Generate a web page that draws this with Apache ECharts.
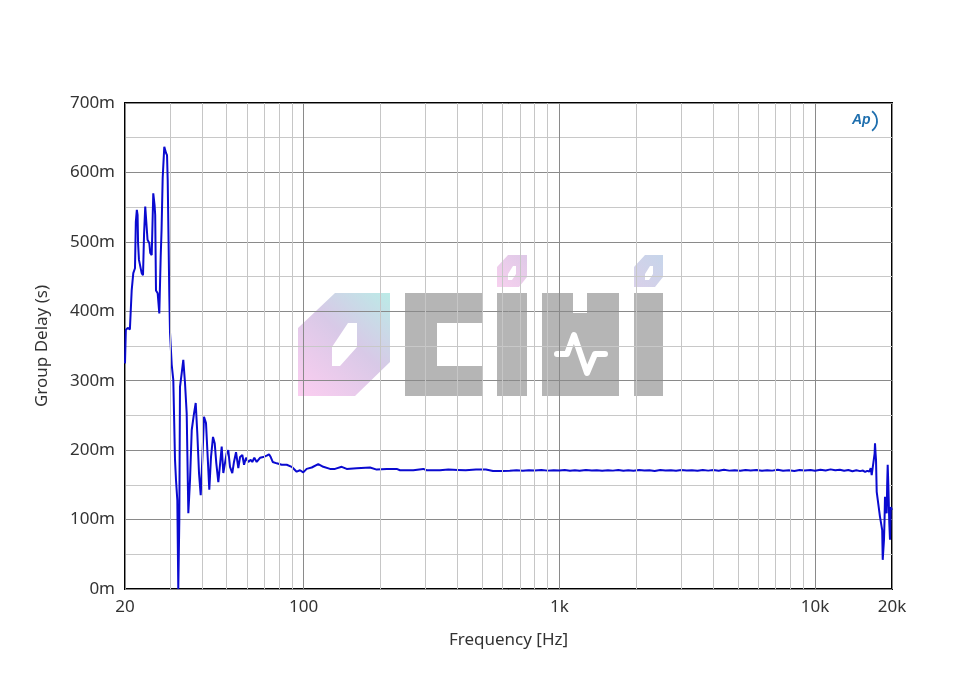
<!DOCTYPE html>
<html><head><meta charset="utf-8">
<script src="https://cdn.jsdelivr.net/npm/echarts@6/dist/echarts.min.js"></script>
<style>html,body{margin:0;padding:0;background:#fff}#c{width:960px;height:680px}</style>
</head><body><div id="c"></div>
<script>
// ---- data (frequency in Hz, group delay in milliseconds) ----
const freqHz = [
20,20.15,20.5,20.9,21.24,21.55,21.88,22.05,22.25,22.4,22.5,22.68,23.24,23.52,23.74,24.0,24.3,24.5,24.9,25.1,
25.44,25.8,26.1,26.25,26.44,26.84,27.24,27.58,27.8,28.08,28.49,28.94,29.2,29.38,29.8,30.0,30.46,30.9,31.38,31.66,
32.04,32.32,32.62,32.82,33.33,33.81,34.33,34.86,35.38,35.92,36.48,37.24,37.81,38.36,38.95,39.55,40.12,40.74,41.48,42.12,
42.73,43.39,44.18,44.86,45.52,46.35,47.06,47.78,48.48,49.36,49.98,50.7,51.49,52.56,53.37,54.36,55.5,56.36,57.54,58.43,
59.49,60.72,62.04,62.93,64.09,65.48,67.46,69.5,71.66,73.17,74.3,75.65,78.43,82.04,85.82,89.74,93.88,96.72,99.6,102.7,
107.5,114,119.3,126.7,132.6,140.8,147.3,161.2,181.7,193,211.2,231,238,268.4,293.6,302.8,341,367.8,
400,430,472,516,550,600,640,680,720,760,800,850,900,950,1000,1050,1100,1150,1200,1270,1340,1400,1470,1550,1620,1700,1780,1860,1950,
2050,2150,2250,2360,2480,2600,2730,2860,3000,3150,3300,3470,3640,3820,4000,4200,4400,4620,4850,5100,5350,5600,5900,6200,6500,6800,
7150,7500,7900,8300,8700,9100,9600,10000,10500,11000,11500,12000,12500,13000,13500,14000,14500,15000,15400,15700,16000,16300,
16510,16657,16900,17100,17162,17250,17318,17427,17680,17951,18230,18310,18395,18610,18700,18778,19068,19150,19240,19350,19518,19642,19767,20000
];
const delayMs = [
325,373,376,374,430,455,462,529,546,539,498,474,455,452,510,551,551,503,498,484,
481,570,553,539,430,426,397,478,517,592,637,628,625,589,426,369,323,301,186,157,
128,0,99,291,311,330,297,253,109,157,229,253,268,224,167,135,186,248,239,190,
143,190,219,210,181,154,179,205,167,167,196,200,176,167,183,197,174,190,193,179,
189,183,186,183,189,183,189,190,192,194,190,183,181,179,179,176,169,171,168,173,
175,180,176,173,173,176,173,174,175,172,173,173,171,171,173,171,171,172,
171.5,171,172,172,170,170,170.3,171,170.4,171.2,170.6,171.4,170.5,171,170.6,171.3,170.4,171,170.2,171.4,170.6,171.2,170.3,171,170.5,171.5,170.4,171,170.2,
171.3,170.6,171.2,170.1,171.4,170.7,171,170.2,171.5,170.6,171.1,170.3,171.4,170.5,171.3,170.4,171.7,170.5,171,170.2,171.3,170.6,171.5,170.3,171.1,170.5,
171.6,170.4,171.2,170.1,171.4,170.6,171.5,170.4,171.9,170.8,172.3,170.9,171.8,170.2,171.5,169.6,171,169.8,170.6,168.6,170.2,169.2,
174,164,166,195,210,195,186,140,140,104,89,85,42,71,99,133,109,150,179,150,95,71,118,114
];
const xTickValues = [20, 100, 1000, 10000, 20000];
const xTickLabels = ['20', '100', '1k', '10k', '20k'];
const minorGridHz = [30,40,50,60,70,80,90,200,300,400,500,600,700,800,900,2000,3000,4000,5000,6000,7000,8000,9000];
const yUnitSuffix = 'm';

const FONT = '"Noto Sans", "Open Sans", sans-serif';
const chart = echarts.init(document.getElementById('c'), null, {renderer: 'canvas'});

function xLabel(v) {
  let best = 0, bd = Infinity;
  xTickValues.forEach((t, i) => { const d = Math.abs(Math.log10(t) - Math.log10(v)); if (d < bd) { bd = d; best = i; } });
  return bd < 0.01 ? xTickLabels[best] : '';
}

const hexFill = {type: 'linear', x: 1, y: 0, x2: 0, y2: 1, colorStops: [
  {offset: 0, color: 'rgba(150,225,218,0.65)'}, {offset: 0.45, color: 'rgba(190,165,215,0.6)'}, {offset: 1, color: 'rgba(248,165,228,0.55)'}]};
const dot1Fill = {type: 'linear', x: 1, y: 0, x2: 0, y2: 1, colorStops: [
  {offset: 0, color: 'rgba(200,165,215,0.6)'}, {offset: 1, color: 'rgba(240,170,225,0.55)'}]};
const dot2Fill = {type: 'linear', x: 1, y: 0, x2: 0, y2: 1, colorStops: [
  {offset: 0, color: 'rgba(160,185,220,0.6)'}, {offset: 1, color: 'rgba(185,170,215,0.55)'}]};
const GRAY = 'rgba(128,128,128,0.58)';

const option = {
  animation: false,
  backgroundColor: '#ffffff',
  grid: {left: 125, right: 68, top: 103, bottom: 91, show: true, borderColor: '#000', borderWidth: 2, backgroundColor: 'transparent'},
  xAxis: {
    type: 'log', logBase: 10, min: 20, max: 20000,
    name: 'Frequency [Hz]', nameLocation: 'middle', nameGap: 43,
    nameTextStyle: {fontSize: 17, color: '#333', fontFamily: FONT},
    axisLine: {show: false}, axisTick: {show: false},
    axisLabel: {fontSize: 17, color: '#333', fontFamily: FONT, margin: 10, showMinLabel: true, showMaxLabel: true, formatter: xLabel},
    splitLine: {show: true, lineStyle: {color: '#8a8a8a', width: 1}},
    minorTick: {show: false}, minorSplitLine: {show: false}
  },
  yAxis: {
    type: 'value', min: 0, max: 700, interval: 100,
    name: 'Group Delay (s)', nameLocation: 'middle', nameGap: 74,
    nameTextStyle: {fontSize: 17, color: '#333', fontFamily: FONT},
    axisLine: {show: false}, axisTick: {show: false},
    axisLabel: {fontSize: 17, color: '#333', fontFamily: FONT, margin: 10, formatter: v => v + yUnitSuffix},
    splitLine: {show: true, lineStyle: {color: '#8a8a8a', width: 1}},
    minorTick: {show: false, splitNumber: 2},
    minorSplitLine: {show: true, lineStyle: {color: '#c8c8c8', width: 1}}
  },
  series: [
    {
      type: 'line', data: [], z: 1, silent: true,
      markLine: {
        silent: true, symbol: ['none', 'none'], animation: false,
        label: {show: false}, emphasis: {disabled: true},
        lineStyle: {color: '#c6c6c6', width: 1, type: 'solid'},
        data: minorGridHz.map(f => ({xAxis: f}))
      }
    },
    {
      type: 'line', z: 3, showSymbol: false, clip: true,
      lineStyle: {color: '#0a0ad0', width: 2},
      data: freqHz.map((f, i) => [f, delayMs[i]])
    }
  ],
  graphic: [
    // watermark (translucent, holes made with reversed inner loops)
    {type: 'group', z: 2, silent: true, children: [
      {type: 'polygon', shape: {points: [[298,328],[335,293],[390,293],[390,362],[355,396],[298,396],[298,328],
        [332,347],[332,366],[340,366],[357,347],[357,323],[348,323],[332,347]]}, style: {fill: hexFill}},
      {type: 'polygon', shape: {points: [[405,293],[482,293],[482,323],[437,323],[437,366],[482,366],[482,396],[405,396]]}, style: {fill: GRAY}},
      {type: 'rect', shape: {x: 497, y: 293, width: 30, height: 103}, style: {fill: GRAY}},
      {type: 'polygon', shape: {points: [[497,267],[508,255],[527,255],[527,277],[519,287],[497,287],[497,267],
        [508,274],[508,280],[512,280],[516,274],[516,266],[513,266],[508,274]]}, style: {fill: dot1Fill}},
      {type: 'polygon', shape: {points: [[542,293],[573,293],[573,313],[587,313],[587,293],[619,293],[619,396],[542,396]]}, style: {fill: GRAY}},
      {type: 'polyline', shape: {points: [[557,354],[567,354],[574,335],[587,373],[595,354],[605,354]]}, style: {stroke: '#fff', lineWidth: 6, lineCap: 'round', lineJoin: 'round', fill: null}},
      {type: 'rect', shape: {x: 634, y: 293, width: 29, height: 103}, style: {fill: GRAY}},
      {type: 'polygon', shape: {points: [[634,267],[645,255],[663,255],[663,277],[655,287],[634,287],[634,267],
        [645,274],[645,280],[649,280],[653,274],[653,266],[650,266],[645,274]]}, style: {fill: dot2Fill}}
    ]},
    // AP logo
    {type: 'text', left: 852, top: 113, z: 10, silent: true,
     style: {text: 'Ap', fill: '#1f6fae', font: 'italic bold 14px "Liberation Sans", sans-serif'}},
    {type: 'arc', z: 10, silent: true, shape: {cx: 865, cy: 121, r: 12, startAngle: -Math.PI * 0.3, endAngle: Math.PI * 0.3},
     style: {stroke: '#1f6fae', lineWidth: 1.8, fill: null}}
  ]
};
chart.setOption(option);
</script></body></html>
